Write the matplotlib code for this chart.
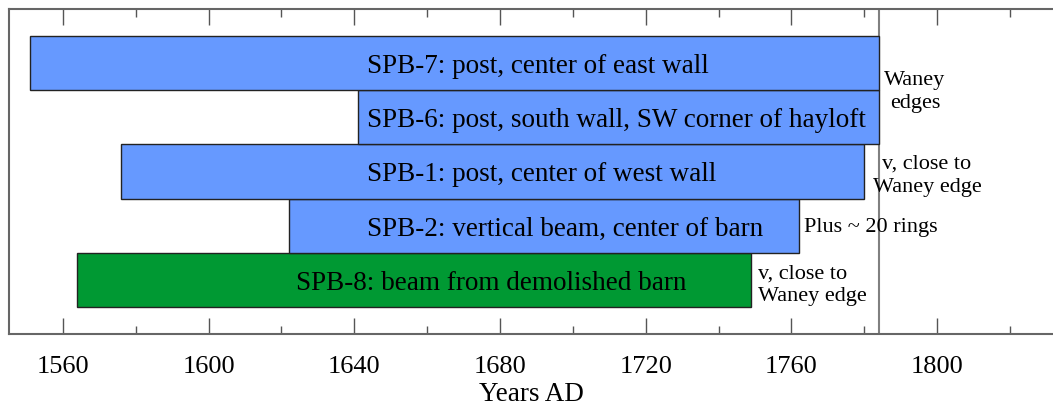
import matplotlib
matplotlib.use("Agg")
import matplotlib.pyplot as plt
import numpy as np

# ---- data ----
samples = ["SPB-8", "SPB-2", "SPB-1", "SPB-6", "SPB-7"]
descriptions = [
    "beam from demolished barn",
    "vertical beam, center of barn",
    "post, center of west wall",
    "post, south wall, SW corner of hayloft",
    "post, center of east wall",
]
start_years = [1564, 1622, 1576, 1641, 1551]
end_years = [1749, 1762, 1780, 1784, 1784]
bar_colors = ["#009933", "#6699FF", "#6699FF", "#6699FF", "#6699FF"]
notes = ["v, close to\nWaney edge", "Plus ~ 20 rings", "v, close to\nWaney edge", "", ""]
felling_line_year = 1784
major_ticks = [1560, 1600, 1640, 1680, 1720, 1760, 1800]
minor_ticks = [1580, 1620, 1660, 1700, 1740, 1780, 1820]

plt.rcParams['font.family'] = ['Liberation Serif', 'DejaVu Serif']

fig = plt.figure(figsize=(10.53, 4.09), dpi=100)
W, H = 1053, 409
ax = fig.add_axes([9 / W, (H - 334) / H, (W - 9) / W, (334 - 9) / H])

ypos = np.arange(len(samples))
widths = np.array(end_years) - np.array(start_years)
ax.barh(ypos, widths, left=start_years, height=1.0, color=bar_colors,
        edgecolor="#222222", linewidth=1.0, zorder=3)

# bar labels (layout positions)
label_x = [1624, 1643.5, 1643.5, 1643.5, 1643.5]
for y, s, d, lx in zip(ypos, samples, descriptions, label_x):
    ax.text(lx, y - 0.06, f"{s}: {d}", ha="left", va="center",
            fontsize=19.5, color="black", zorder=4)

# notes
ax.text(1750.8, -0.1, notes[0], ha="left", va="center", fontsize=16,
        linespacing=1.3, zorder=4)
ax.text(1763.5, 0.97, notes[1], ha="left", va="center", fontsize=16, zorder=4)
ax.text(1797.2, 1.92, notes[2], ha="center", va="center", fontsize=16,
        linespacing=1.3, zorder=4)
ax.text(1793.9, 3.47, "Waney\nedges", ha="center", va="center", fontsize=16,
        linespacing=1.3, zorder=4)

ax.axvline(felling_line_year, color="#808080", linewidth=1.5, zorder=2)

ax.set_xlim(1545.2, 1831.8)
ax.set_ylim(-1.0, 5.0)
ax.set_yticks([])
ax.set_xticks(major_ticks)
ax.set_xticks(minor_ticks, minor=True)
ax.set_xticklabels([str(t) for t in major_ticks], fontsize=19)
ax.tick_params(axis="x", which="major", direction="in", length=11.5, width=1.0,
               color="#555555", top=True, pad=16)
ax.tick_params(axis="x", which="minor", direction="in", length=6, width=1.0,
               color="#555555", top=True)
ax.set_xlabel("Years AD", fontsize=19.5, labelpad=3)

for side in ["left", "top", "bottom"]:
    ax.spines[side].set_color("#666666")
    ax.spines[side].set_linewidth(1.5)
ax.spines["right"].set_visible(False)

fig.savefig("out.png", dpi=100)
